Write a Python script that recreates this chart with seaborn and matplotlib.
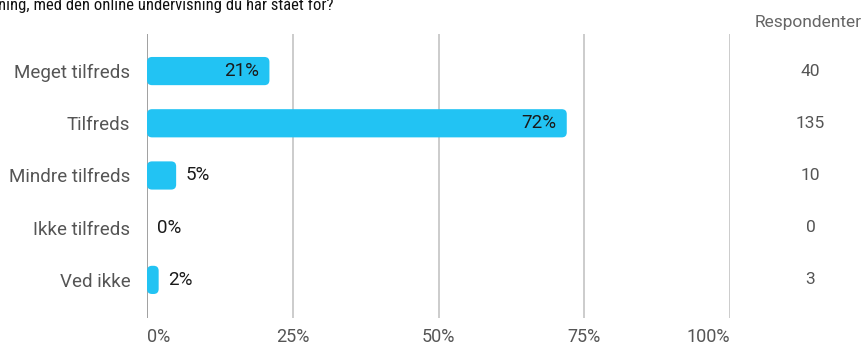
import matplotlib.pyplot as plt
from matplotlib.patches import FancyBboxPatch
from matplotlib import font_manager
import pandas as pd
import seaborn as sns

categories = ['Meget tilfreds', 'Tilfreds', 'Mindre tilfreds', 'Ikke tilfreds', 'Ved ikke']
percent = [21, 72, 5, 0, 2]
respondents = [40, 135, 10, 0, 3]
xticks = [0, 25, 50, 75, 100]

sns.set_style('white')
plt.rcParams['font.family'] = ['Roboto', 'DejaVu Sans']

df = pd.DataFrame({'kategori': categories, 'pct': percent})

fig = plt.figure(figsize=(8.66, 3.45), dpi=100)
ax = fig.add_axes([147/866, 1-318/345, (730-147)/866, (318-34)/345])

sns.barplot(data=df, y='kategori', x='pct', color='#22C3F3', width=0.54,
            saturation=1, ax=ax, zorder=3)

ax.set_xlim(0, 100)
ax.set_ylim(4.73, -0.71)

# swap the flat bars for rounded ones
px_x = 583/100
px_y = 52.25
r = 5
for p in list(ax.patches):
    x0, y0 = p.get_x(), p.get_y()
    w, h = p.get_width(), p.get_height()
    p.remove()
    if w <= 0:
        continue
    rs = min(r/px_x, w/2)
    ax.add_patch(FancyBboxPatch((x0, y0), w, h,
                                boxstyle='round,pad=0,rounding_size=%f' % rs,
                                mutation_aspect=(1/px_y)/(1/px_x),
                                fc='#22C3F3', ec='none', zorder=3))

for i, v in enumerate(percent):
    if v >= 15:
        ax.text(v - 1.8, i, '%d%%' % v, ha='right', va='center',
                fontsize=13.5, color='#1a1a1a', zorder=4)
    else:
        ax.text(v + 1.7, i, '%d%%' % v, ha='left', va='center',
                fontsize=13.5, color='#1a1a1a', zorder=4)

for t in xticks:
    ax.axvline(t, color='#999999' if t == 0 else '#c8c8c8', lw=1.3, zorder=1)

ax.set_xticks(xticks)
ax.set_xticklabels(['%d%%' % t for t in xticks], fontsize=13, color='#555555')
xl = ax.get_xticklabels()
xl[0].set_ha('left')
xl[-1].set_ha('right')
ax.tick_params(axis='x', length=0, pad=7)
ax.tick_params(axis='y', length=0, pad=12, labelsize=13.5, labelcolor='#555555')
ax.set_xlabel('')
ax.set_ylabel('')
for s in ax.spines.values():
    s.set_visible(False)

for i, n in enumerate(respondents):
    ax.text(113.8, i, str(n), ha='center', va='center', fontsize=12.5,
            color='#555555', transform=ax.transData, clip_on=False)
fig.text(808/866, 1-22/345, 'Respondenter', ha='center', va='center',
         fontsize=12.5, color='#666666')

title_font = font_manager.FontProperties(family=['Roboto Condensed', 'DejaVu Sans'],
                                         stretch='condensed', size=12)
fig.text(-0.002, 1-10/345, 'ning, med den online undervisning du har stået for?',
         ha='left', va='baseline', fontproperties=title_font, color='#111111')

fig.savefig('out.png', dpi=100)
